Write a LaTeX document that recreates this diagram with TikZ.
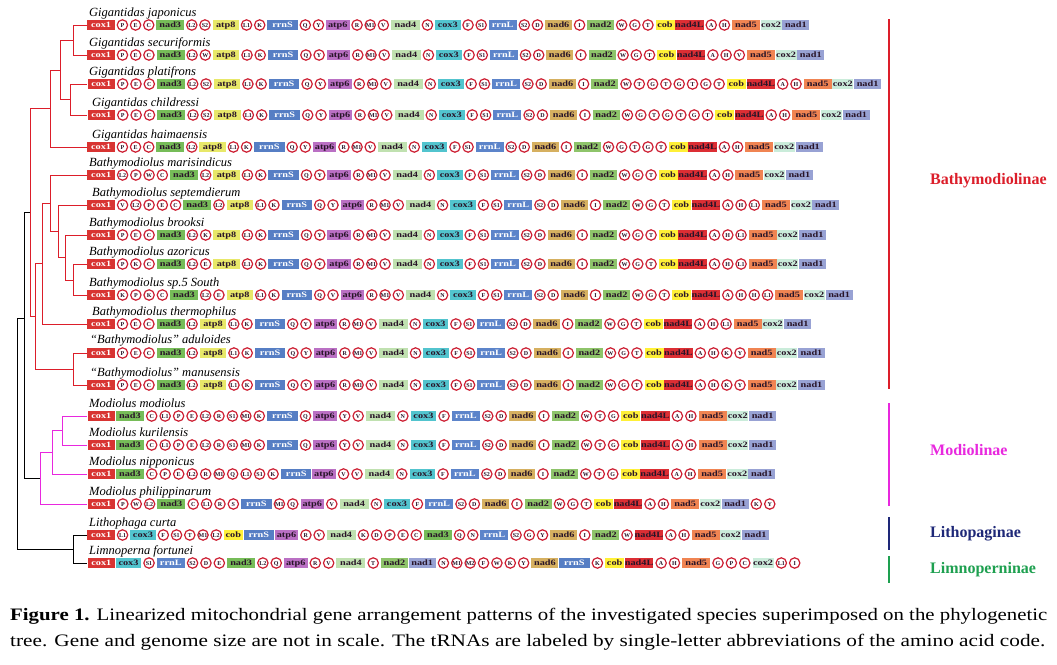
\documentclass[tikz,border=0pt]{standalone}
\usepackage{fontspec}
\usepackage{graphicx}
\setmainfont{Liberation Serif}
\newfontfamily\genefont[FakeStretch=1.25]{Liberation Serif}
\usetikzlibrary{shapes.geometric}
\definecolor{ring}{RGB}{205,30,50}
\definecolor{gtext}{RGB}{40,20,40}
\definecolor{ccoxa}{RGB}{216,52,50}
\definecolor{cnadc}{RGB}{118,188,88}
\definecolor{catpe}{RGB}{232,232,105}
\definecolor{crrns}{RGB}{86,126,196}
\definecolor{catpf}{RGB}{186,112,196}
\definecolor{cnadd}{RGB}{192,225,176}
\definecolor{ccoxc}{RGB}{82,196,206}
\definecolor{crrnl}{RGB}{92,132,202}
\definecolor{cnadf}{RGB}{214,176,96}
\definecolor{cnadb}{RGB}{142,196,106}
\definecolor{ccob}{RGB}{255,240,55}
\definecolor{cnadl}{RGB}{220,46,52}
\definecolor{cnade}{RGB}{240,132,82}
\definecolor{ccoxb}{RGB}{202,236,218}
\definecolor{cnada}{RGB}{152,162,212}
\definecolor{bred}{RGB}{220,30,42}
\definecolor{bmag}{RGB}{232,40,222}
\definecolor{bblue}{RGB}{30,40,120}
\definecolor{bgreen}{RGB}{30,160,80}
\tikzset{
  gbox/.style={rectangle, fill=#1, minimum height=9.5pt, inner sep=0pt, text height=5.6pt, text depth=0pt, text=gtext,
    font=\genefont\fontsize{8.2}{8.2}\selectfont\bfseries},
  gn cox1/.style={gbox=ccoxa, minimum width=27.5pt, text=white},
  gn nad3/.style={gbox=cnadc, minimum width=28pt},
  gn atp8/.style={gbox=catpe, minimum width=26.5pt},
  gn rrnS/.style={gbox=crrns, minimum width=30.5pt, text=white},
  gn atp6/.style={gbox=catpf, minimum width=23.5pt},
  gn nad4/.style={gbox=cnadd, minimum width=29pt},
  gn cox3/.style={gbox=ccoxc, minimum width=25.5pt},
  gn rrnL/.style={gbox=crrnl, minimum width=28pt, text=white},
  gn nad6/.style={gbox=cnadf, minimum width=27pt},
  gn nad2/.style={gbox=cnadb, minimum width=27pt},
  gn cob/.style={gbox=ccob, minimum width=19pt},
  gn nad4L/.style={gbox=cnadl, minimum width=28.5pt},
  gn nad5/.style={gbox=cnade, minimum width=28pt},
  gn cox2/.style={gbox=ccoxb, minimum width=21pt},
  gn nad1/.style={gbox=cnada, minimum width=27pt},
  trna/.style={circle, draw=ring, line width=1.2pt, fill=white, minimum size=10.4pt, inner sep=0pt,
    text height=4pt, text depth=0pt, text=gtext, font=\fontsize{6}{6}\selectfont\bfseries},
  gene/.code={\pgfkeysifdefined{/tikz/gn #1/.@cmd}{\pgfkeysalso{gn #1}}{\pgfkeysalso{trna}}},
  sp/.style={anchor=base west, inner sep=0pt, font=\fontsize{12.5}{12.5}\selectfont\itshape},
  tr/.style={line width=1pt, bred},
  trm/.style={line width=1pt, bmag},
  trk/.style={line width=1pt, black},
  brk/.style={line width=2pt},
  grp/.style={anchor=west, inner sep=0pt, font=\fontsize{16}{16}\selectfont\bfseries},
  capline/.style={anchor=base west, inner sep=0pt, font=\fontsize{17.5}{17.5}\selectfont},
}
% #1 name, #2 y, #3 gap, #4 list
\newcommand\generow[4]{%
  \coordinate (#1-0) at (85.6,#2);
  \xdef\prevg{#1-0}\xdef\lastbox{0}%
  \foreach \g [count=\i] in {#4}{%
    \pgfkeysifdefined{/tikz/gn \g/.@cmd}{\def\curbox{1}}{\def\curbox{0}}%
    \ifnum\curbox\lastbox=11 \def\ggap{0.3pt}\else\def\ggap{#3pt}\fi
    \node[gene=\g, anchor=west] (#1-\i) at ([xshift=\ggap]\prevg) {\g};
    \xdef\prevg{#1-\i.east}\xdef\lastbox{\curbox}%
  }%
}
\begin{document}
\begin{tikzpicture}[x=1pt,y=-1pt]
\useasboundingbox (0,0) rectangle (1057,664);
\fill[white] (0,0) rectangle (1057,664);
% species labels
\node[sp] (s1) at (89,16) {Gigantidas japonicus};
\node[sp] (s2) at (89,46) {Gigantidas securiformis};
\node[sp] (s3) at (89,75) {Gigantidas platifrons};
\node[sp] (s4) at (92,106) {Gigantidas childressi};
\node[sp] (s5) at (92,138) {Gigantidas haimaensis};
\node[sp] (s6) at (89,166) {Bathymodiolus marisindicus};
\node[sp] (s7) at (92,196) {Bathymodiolus septemdierum};
\node[sp] (s8) at (89,226) {Bathymodiolus brooksi};
\node[sp] (s9) at (89,255) {Bathymodiolus azoricus};
\node[sp] (s10) at (89,286) {Bathymodiolus sp.5 South};
\node[sp] (s11) at (92,315) {Bathymodiolus thermophilus};
\node[sp] (s12) at (90,343) {``Bathymodiolus'' aduloides};
\node[sp] (s13) at (90,376) {``Bathymodiolus'' manusensis};
\node[sp] (s14) at (89,407) {Modiolus modiolus};
\node[sp] (s15) at (89,436) {Modiolus kurilensis};
\node[sp] (s16) at (89,465) {Modiolus nipponicus};
\node[sp] (s17) at (89,495) {Modiolus philippinarum};
\node[sp] (s18) at (89,526) {Lithophaga curta};
\node[sp] (s19) at (89,554) {Limnoperna fortunei};
% gene rows
\generow{r1}{25}{1.55}{cox1,P,E,C,nad3,L2,S2,atp8,L1,K,rrnS,Q,Y,atp6,R,M1,V,nad4,N,cox3,F,S1,rrnL,S2,D,nad6,I,nad2,W,G,T,cob,nad4L,A,H,nad5,cox2,nad1}
\generow{r2}{55}{1.6}{cox1,P,E,C,nad3,L2,W,atp8,L1,K,rrnS,Q,Y,atp6,R,M1,V,nad4,N,cox3,F,S1,rrnL,S2,D,nad6,I,nad2,W,G,T,cob,nad4L,A,H,V,nad5,cox2,nad1}
\generow{r3}{84}{1.7}{cox1,P,E,C,nad3,L2,S2,atp8,L1,K,rrnS,Q,Y,atp6,R,M1,V,nad4,N,cox3,F,S1,rrnL,S2,D,nad6,I,nad2,W,T,G,T,G,T,G,T,cob,nad4L,A,H,nad5,cox2,nad1}
\generow{r4}{115}{1.75}{cox1,P,E,C,nad3,L2,S2,atp8,L1,K,rrnS,Q,Y,atp6,R,M1,V,nad4,N,cox3,F,S1,rrnL,S2,D,nad6,I,nad2,W,G,T,G,T,G,T,cob,nad4L,A,H,nad5,cox2,nad1}
\generow{r5}{147}{1.55}{cox1,P,E,C,nad3,L2,atp8,L1,K,rrnS,Q,Y,atp6,R,M1,V,nad4,N,cox3,F,S1,rrnL,S2,D,nad6,I,nad2,W,G,T,G,T,cob,nad4L,A,H,nad5,cox2,nad1}
\generow{r6}{175}{1.65}{cox1,L2,P,W,C,nad3,L2,atp8,L1,K,rrnS,Q,Y,atp6,R,M1,V,nad4,N,cox3,F,S1,rrnL,S2,D,nad6,I,nad2,W,G,T,cob,nad4L,A,H,nad5,cox2,nad1}
\generow{r7}{205}{1.65}{cox1,V,L2,P,E,C,nad3,L2,atp8,L1,K,rrnS,Q,Y,atp6,R,M1,V,nad4,N,cox3,F,S1,rrnL,S2,D,nad6,I,nad2,W,G,T,cob,nad4L,A,H,L1,nad5,cox2,nad1}
\generow{r8}{235}{1.65}{cox1,P,E,C,nad3,L2,K,atp8,L1,K,rrnS,Q,Y,atp6,R,M1,V,nad4,N,cox3,F,S1,rrnL,S2,D,nad6,I,nad2,W,G,T,cob,nad4L,A,H,L1,nad5,cox2,nad1}
\generow{r9}{264}{1.65}{cox1,P,K,C,nad3,L2,E,atp8,L1,K,rrnS,Q,Y,atp6,R,M1,V,nad4,N,cox3,F,S1,rrnL,S2,D,nad6,I,nad2,W,G,T,cob,nad4L,A,H,L1,nad5,cox2,nad1}
\generow{r10}{295}{1.65}{cox1,K,P,K,C,nad3,L2,E,atp8,L1,K,rrnS,Q,V,atp6,R,M1,V,nad4,N,cox3,F,S1,rrnL,S2,D,nad6,I,nad2,W,G,T,cob,nad4L,A,H,H,L1,nad5,cox2,nad1}
\generow{r11}{324}{1.6}{cox1,P,E,C,nad3,L2,atp8,L1,K,rrnS,Q,Y,atp6,R,M1,V,nad4,N,cox3,F,S1,rrnL,S2,D,nad6,I,nad2,W,G,T,cob,nad4L,A,H,L1,nad5,cox2,nad1}
\generow{r12}{353}{1.62}{cox1,P,E,C,nad3,L2,atp8,L1,K,rrnS,Q,Y,atp6,R,M1,V,nad4,N,cox3,F,S1,rrnL,S2,D,nad6,I,nad2,W,G,T,cob,nad4L,A,H,K,Y,nad5,cox2,nad1}
\generow{r13}{385}{1.62}{cox1,P,E,C,nad3,L2,atp8,L1,K,rrnS,Q,Y,atp6,R,M1,V,nad4,N,cox3,F,S1,rrnL,S2,D,nad6,I,nad2,W,G,T,cob,nad4L,A,H,K,Y,nad5,cox2,nad1}
\generow{r14}{416}{1.85}{cox1,nad3,C,L1,P,E,L2,R,S1,M1,K,rrnS,Q,atp6,Y,V,nad4,N,cox3,F,rrnL,S2,D,nad6,I,nad2,W,T,G,cob,nad4L,A,H,nad5,cox2,nad1}
\generow{r15}{445}{1.85}{cox1,nad3,C,L1,P,E,L2,R,S1,M1,K,rrnS,Q,atp6,Y,V,nad4,N,cox3,F,rrnL,S2,D,nad6,I,nad2,W,T,G,cob,nad4L,A,H,nad5,cox2,nad1}
\generow{r16}{474}{1.88}{cox1,nad3,C,P,E,L2,R,M1,Q,L1,S1,K,rrnS,atp6,V,V,nad4,N,cox3,F,rrnL,S2,D,nad6,I,nad2,W,T,G,cob,nad4L,A,H,nad5,cox2,nad1}
\generow{r17}{504}{1.78}{cox1,P,W,L2,nad3,C,L1,R,S,rrnS,M1,Q,atp6,V,nad4,N,cox3,F,rrnL,S2,D,nad6,I,nad2,W,G,T,cob,nad4L,A,H,nad5,cox2,nad1,K,Y}
\generow{r18}{535}{1.63}{cox1,L1,cox3,F,S1,T,M1,L2,cob,rrnS,atp6,R,V,nad4,K,D,P,E,C,nad3,Q,N,rrnL,S2,G,Y,nad6,I,nad2,W,nad4L,A,H,nad5,cox2,nad1}
\generow{r19}{563}{1.77}{cox1,cox3,S1,rrnL,S2,D,E,nad3,L2,Q,atp6,R,V,nad4,T,nad2,nad1,N,M1,M2,F,W,K,Y,nad6,rrnS,K,cob,nad4L,A,H,nad5,G,P,C,cox2,L1,I}
% tree coordinates
\coordinate (g12) at (73,40);
\coordinate (g34) at (70,99.5);
\coordinate (g14) at (60,70);
\coordinate (gG) at (50,108);
\coordinate (b1213) at (73,369);
\coordinate (b910) at (73,280);
\coordinate (b8) at (65,257);
\coordinate (b7) at (58,231);
\coordinate (b6) at (50,203);
\coordinate (b11) at (42,263);
\coordinate (bB) at (35,316);
\coordinate (bR) at (30,212);
\coordinate (m12) at (62,430);
\coordinate (m3) at (52,452);
\coordinate (m4) at (40,478);
\coordinate (bm) at (24,318);
\coordinate (ll) at (73,549);
\coordinate (root) at (17,433);
% tree
\draw[tr] (g12) |- (r1-1.west); \draw[tr] (g12) |- (r2-1.west);
\draw[tr] (g34) |- (r3-1.west); \draw[tr] (g34) |- (r4-1.west);
\draw[tr] (g14) |- (g12); \draw[tr] (g14) |- (g34);
\draw[tr] (gG) |- (g14); \draw[tr] (gG) |- (r5-1.west);
\draw[tr] (b1213) |- (r12-1.west); \draw[tr] (b1213) |- (r13-1.west);
\draw[tr] (b910) |- (r9-1.west); \draw[tr] (b910) |- (r10-1.west);
\draw[tr] (b8) |- (r8-1.west); \draw[tr] (b8) |- (b910);
\draw[tr] (b7) |- (r7-1.west); \draw[tr] (b7) |- (b8);
\draw[tr] (b6) |- (r6-1.west); \draw[tr] (b6) |- (b7);
\draw[tr] (b11) |- (b6); \draw[tr] (b11) |- (r11-1.west);
\draw[tr] (bB) |- (b11); \draw[tr] (bB) |- (b1213);
\draw[tr] (bR) |- (gG); \draw[tr] (bR) |- (bB);
\draw[trm] (m12) |- (r14-1.west); \draw[trm] (m12) |- (r15-1.west);
\draw[trm] (m3) |- (m12); \draw[trm] (m3) |- (r16-1.west);
\draw[trm] (m4) |- (m3); \draw[trm] (m4) |- (r17-1.west);
\draw[trk] (bm) |- (bR); \draw[trk] (bm) |- (m4);
\draw[trk] (ll) |- (r18-1.west); \draw[trk] (ll) |- (r19-1.west);
\draw[trk] (root) |- (bm); \draw[trk] (root) |- (ll);
% group brackets
\coordinate (ba) at (889,19); \coordinate (bb) at (889,389);
\coordinate (ma) at (889,403); \coordinate (mb) at (889,506);
\coordinate (la) at (889,517); \coordinate (lb) at (889,550);
\coordinate (na) at (889,556); \coordinate (nb) at (889,583);
\draw[brk, bred] (ba) -- (bb);
\draw[brk, bmag] (ma) -- (mb);
\draw[brk, bblue] (la) -- (lb);
\draw[brk, bgreen] (na) -- (nb);
\node[grp, text=bred] (gb) at (930,181) {Bathymodiolinae};
\node[grp, text=bmag] (gm) at (930,450) {Modiolinae};
\node[grp, text=bblue] (gl) at (930,534) {Lithopaginae};
\node[grp, text=bgreen] (gn) at (930,570) {Limnoperninae};
% caption
\node[capline] (c1) at (10,620) {\resizebox{1037pt}{\height}{\textbf{Figure 1.} Linearized mitochondrial gene arrangement patterns of the investigated species superimposed on the phylogenetic}};
\node[capline] (c2) at (10,646) {\resizebox{1035pt}{\height}{tree. Gene and genome size are not in scale. The tRNAs are labeled by single-letter abbreviations of the amino acid code.}};
\end{tikzpicture}
\end{document}
